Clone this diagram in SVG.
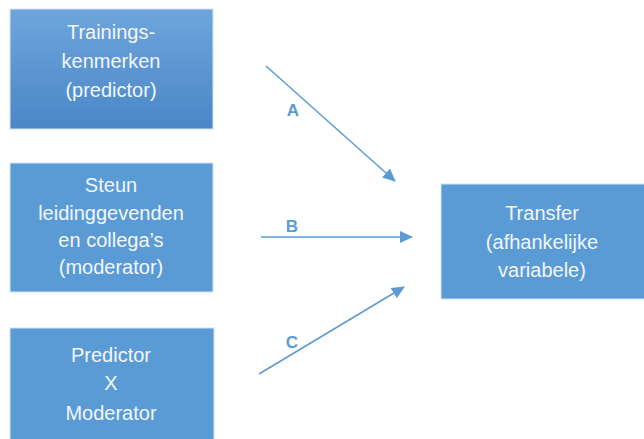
<svg xmlns="http://www.w3.org/2000/svg" width="644" height="439" viewBox="0 0 644 439">
<defs>
<linearGradient id="g1" x1="0" y1="0" x2="0" y2="1">
<stop offset="0" stop-color="#6ea5dc"/>
<stop offset="1" stop-color="#4a87c7"/>
</linearGradient>
<marker id="ah" markerWidth="13" markerHeight="12" refX="12" refY="6" orient="auto" markerUnits="userSpaceOnUse" viewBox="0 0 13 12">
<path d="M0,0 L13,6 L0,12 Z" fill="#5b9bd5"/>
</marker>
<style>
.box{fill:#5b9bd5;stroke:#d6e4f3;stroke-width:1}
.t{font-family:"Liberation Sans",Arial,sans-serif;font-size:20px;fill:#f2f6fb;text-anchor:middle}
.lbl{font-family:"Liberation Sans",Arial,sans-serif;font-size:17px;font-weight:bold;fill:#5b9bd5;text-anchor:middle}
.c{stroke:#5b9bd5;stroke-width:1.5;fill:none;marker-end:url(#ah)}
</style>
</defs>
<rect width="644" height="439" fill="#ffffff"/>
<g id="node-training">
<rect x="10" y="9" width="203" height="120" fill="url(#g1)" stroke="#d6e4f3"/>
<text class="t" x="111" y="39">Trainings-</text>
<text class="t" x="111" y="68">kenmerken</text>
<text class="t" x="111" y="97">(predictor)</text>
</g>
<g id="node-steun">
<rect class="box" x="10" y="163" width="203" height="129"/>
<text class="t" x="111" y="192">Steun</text>
<text class="t" x="111" y="220">leidinggevenden</text>
<text class="t" x="111" y="247">en collega’s</text>
<text class="t" x="111" y="274">(moderator)</text>
</g>
<g id="node-interactie">
<rect class="box" x="10" y="328" width="204" height="115"/>
<text class="t" x="111" y="362">Predictor</text>
<text class="t" x="111" y="390">X</text>
<text class="t" x="111" y="420">Moderator</text>
</g>
<g id="node-transfer">
<rect class="box" x="441" y="184" width="205" height="115"/>
<text class="t" x="542" y="220">Transfer</text>
<text class="t" x="542" y="249">(afhankelijke</text>
<text class="t" x="542" y="277">variabele)</text>
</g>
<g id="connectors">
<line class="c" x1="266" y1="66" x2="395" y2="181"/>
<line class="c" x1="261" y1="237" x2="412" y2="237"/>
<line class="c" x1="259" y1="374" x2="404" y2="287"/>
<text class="lbl" x="293" y="116">A</text>
<text class="lbl" x="292" y="232">B</text>
<text class="lbl" x="292" y="348">C</text>
</g>
</svg>
